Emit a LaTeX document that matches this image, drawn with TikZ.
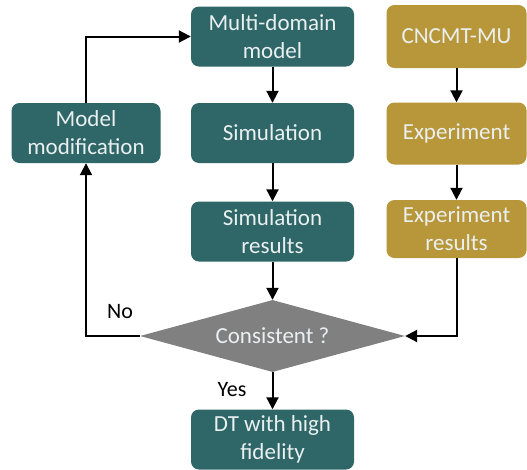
\documentclass[tikz,border=0pt]{standalone}
\usepackage{fontspec}
\setmainfont{Carlito}
\usetikzlibrary{arrows.meta,shapes.geometric}
\definecolor{teal}{HTML}{2F6667}
\definecolor{gold}{HTML}{B8963A}
\definecolor{diamondgrey}{HTML}{808080}
\definecolor{boxtext}{HTML}{EAF0F0}
\tikzset{
  boxbase/.style={rounded corners=8pt, text=boxtext, align=center,
    font=\fontsize{23}{28}\selectfont, inner sep=0pt},
  simbox/.style={boxbase, fill=teal, minimum width=163pt, minimum height=60pt},
  expbox/.style={boxbase, fill=gold, minimum width=140pt, minimum height=60pt},
  decision/.style={diamond, fill=diamondgrey, text=boxtext, aspect=3.7,
    minimum width=265pt, minimum height=72pt, inner sep=0pt,
    font=\fontsize{23}{28}\selectfont},
  flow/.style={line width=2pt, -{Triangle[length=12pt,width=12pt]}},
  lbl/.style={font=\fontsize{22}{26}\selectfont, text=black}
}
\begin{document}
\begin{tikzpicture}[x=1pt,y=-1pt]
  \useasboundingbox[fill=white] (0,0) rectangle (527,469);

  % central column
  \node[simbox] (mdm) at (272.5,36.5) {Multi-domain\\model};
  \node[simbox] (sim) at (272.5,133) {Simulation};
  \node[simbox] (simres) at (272.5,231.5) {Simulation\\results};
  \node[decision] (cons) at (272.5,336) {Consistent ?};
  \node[simbox, minimum height=60pt] (dt) at (272.5,439.5) {DT with high\\fidelity};

  % experiment column
  \node[expbox, minimum height=63pt] (cnc) at (456.5,36.5) {CNCMT-MU};
  \node[expbox, minimum height=62pt] (exp) at (456.5,133.5) {Experiment};
  \node[expbox, minimum height=58pt] (expres) at (456.5,229) {Experiment\\results};

  % feedback loop
  \node[simbox, minimum width=149pt] (mod) at (86,133) {Model\\modification};

  \draw[flow] (mdm) -- (sim);
  \draw[flow] (sim) -- (simres);
  \draw[flow] (simres) -- (cons.north);
  \draw[flow] (cons.south) -- (dt);
  \draw[flow] (cnc) -- (exp);
  \draw[flow] (exp) -- (expres);
  \draw[flow] (expres.south) |- (cons.east);
  \draw[flow] (cons.west) -| (mod.south);
  \draw[flow] (mod.north) |- (mdm.west);

  \node[lbl] (no) at (120,312) {No};
  \node[lbl] (yes) at (232,390) {Yes};
\end{tikzpicture}
\end{document}
